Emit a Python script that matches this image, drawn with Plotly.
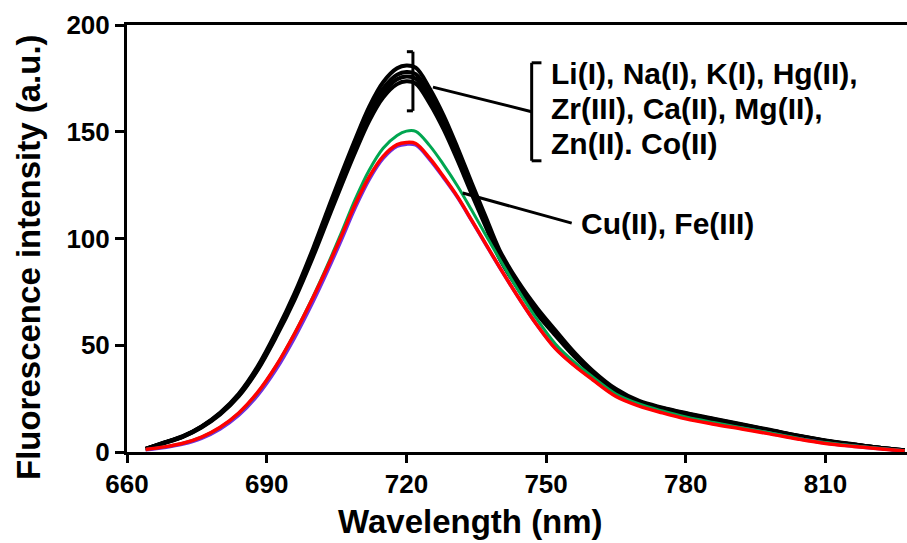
import plotly.graph_objects as go

# ---- data ----
wavelength = [664, 668, 672, 676, 680, 684, 688, 692, 696, 700, 703, 706, 709, 712, 715, 718, 720,
              722, 725, 728, 731, 734, 737, 740, 744, 748, 752, 756, 760, 765, 770, 775, 780, 786,
              792, 798, 804, 810, 816, 822, 827]

black_a = [1.5, 4.5, 7.4, 12.0, 18.4, 27.3, 39.9, 56.1, 74.4, 95.6, 112.9, 130.0, 146.4, 161.7, 173.2, 179.7, 181.0,
           180.0, 170.3, 157.6, 142.4, 126.1, 110.3, 94.6, 79.8, 67.6, 57.0, 46.8, 38.1, 29.5, 23.9, 20.8, 18.3, 15.6,
           13.0, 10.4, 7.7, 5.4, 3.6, 1.9, 0.8]
black_b = [1.5, 4.4, 7.3, 11.8, 18.1, 26.8, 39.2, 55.2, 73.2, 94.0, 111.0, 127.8, 144.0, 159.0, 170.3, 176.7, 178.0,
           177.0, 167.5, 155.0, 140.0, 124.0, 108.5, 93.0, 78.5, 66.5, 56.0, 46.0, 37.5, 29.0, 23.5, 20.5, 18.0, 15.3,
           12.8, 10.2, 7.6, 5.3, 3.5, 1.9, 0.8]
black_c = [1.5, 4.3, 7.2, 11.7, 17.9, 26.5, 38.7, 54.5, 72.3, 92.9, 109.7, 126.3, 142.3, 157.1, 168.3, 174.6, 175.9,
           174.9, 165.5, 153.1, 138.3, 122.5, 107.2, 91.9, 77.6, 65.7, 55.3, 45.4, 37.1, 28.7, 23.2, 20.3, 17.8, 15.1,
           12.6, 10.1, 7.5, 5.2, 3.5, 1.9, 0.8]
black_d = [1.4, 4.2, 7.1, 11.5, 17.6, 26.1, 38.2, 53.8, 71.4, 91.7, 108.2, 124.6, 140.4, 155.0, 166.0, 172.3, 173.6,
           172.6, 163.3, 151.1, 136.5, 120.9, 105.8, 90.7, 76.5, 64.8, 54.6, 44.9, 36.6, 28.3, 22.9, 20.0, 17.6, 14.9,
           12.5, 9.9, 7.4, 5.2, 3.4, 1.9, 0.8]
purple = [1.0, 2.1, 3.7, 6.4, 10.8, 17.2, 26.4, 38.6, 53.6, 70.6, 84.5, 99.2, 114.4, 127.6, 137.5, 143.2, 144.2,
          143.8, 137.0, 128.4, 119.2, 108.4, 97.4, 86.5, 72.6, 59.6, 48.6, 40.8, 34.2, 26.4, 21.9, 18.7, 15.9, 13.4,
          11.1, 8.8, 6.3, 4.2, 2.7, 1.5, 0.5]
green = [1.2, 2.4, 4.1, 7.0, 11.5, 18.2, 27.6, 40.2, 55.6, 73.0, 87.3, 102.5, 118.3, 132.0, 142.3, 148.3, 150.3,
         150.2, 143.5, 134.5, 124.5, 113.3, 101.8, 90.4, 75.8, 62.3, 50.6, 42.2, 35.2, 27.2, 22.5, 19.2, 16.4, 13.8,
         11.4, 9.0, 6.5, 4.4, 2.9, 1.6, 0.6]
red = [1.2, 2.4, 4.1, 7.0, 11.6, 18.3, 27.8, 40.3, 55.5, 72.6, 86.4, 101.0, 116.0, 128.9, 138.5, 144.0, 145.0,
       144.5, 137.6, 128.9, 119.5, 108.6, 97.6, 86.6, 72.6, 59.6, 48.4, 40.5, 33.8, 26.0, 21.5, 18.3, 15.5, 13.0,
       10.8, 8.5, 6.1, 4.0, 2.6, 1.4, 0.5]

x_ticks = [660, 690, 720, 750, 780, 810]
y_ticks = [0, 50, 100, 150, 200]

label_group1 = ["Li(I), Na(I), K(I), Hg(II),", "Zr(III), Ca(II), Mg(II),", "Zn(II). Co(II)"]
label_group2 = "Cu(II), Fe(III)"

FONT = "Liberation Sans, Arial, sans-serif"

fig = go.Figure()
for ys in [black_a, black_b, black_c, black_d]:
    fig.add_trace(go.Scatter(x=wavelength, y=ys, mode="lines",
                             line=dict(color="black", width=4, shape="spline", smoothing=1.0),
                             hoverinfo="skip", showlegend=False))
fig.add_trace(go.Scatter(x=wavelength, y=purple, mode="lines",
                         line=dict(color="#7030e0", width=3.5, shape="spline", smoothing=1.0), showlegend=False))
fig.add_trace(go.Scatter(x=wavelength, y=green, mode="lines",
                         line=dict(color="#00a650", width=3, shape="spline", smoothing=1.0), showlegend=False))
fig.add_trace(go.Scatter(x=wavelength, y=red, mode="lines",
                         line=dict(color="#ff0000", width=3.5, shape="spline", smoothing=1.0), showlegend=False))

# bracket / leader decorations
lw = dict(color="black", width=3)
shapes = [
    dict(type="line", x0=721.4, x1=721.4, y0=187.5, y1=159.8, line=lw),
    dict(type="line", x0=720.1, x1=721.4, y0=187.5, y1=187.5, line=lw),
    dict(type="line", x0=720.1, x1=721.4, y0=159.8, y1=159.8, line=lw),
    dict(type="line", x0=725.7, x1=746.9, y0=170.9, y1=159.4, line=lw),
    dict(type="line", x0=746.9, x1=746.9, y0=182.3, y1=136.4, line=lw),
    dict(type="line", x0=746.9, x1=749.0, y0=182.3, y1=182.3, line=lw),
    dict(type="line", x0=746.9, x1=749.0, y0=136.4, y1=136.4, line=lw),
    dict(type="line", x0=732.1, x1=755.5, y0=121.3, y1=107.2, line=lw),
]

ann_font = dict(family=FONT, size=30, color="black", weight="bold")
annotations = []
for txt, yv in zip(label_group1, [177.4, 161.0, 144.6]):
    annotations.append(dict(x=750.6, y=yv, xref="x", yref="y", text=txt, showarrow=False,
                            xanchor="left", yanchor="middle", font=ann_font))
annotations.append(dict(x=757.0, y=107.2, xref="x", yref="y", text=label_group2, showarrow=False,
                        xanchor="left", yanchor="middle", font=ann_font))
title_font = dict(family=FONT, size=33, color="black", weight="bold")
annotations.append(dict(x=0.441, y=-0.1616, xref="paper", yref="paper", text="Wavelength (nm)",
                        showarrow=False, xanchor="center", yanchor="middle", font=title_font))
annotations.append(dict(x=-0.1256, y=0.4567, xref="paper", yref="paper", text="Fluorescence intensity (a.u.)",
                        showarrow=False, xanchor="center", yanchor="middle", textangle=-90, font=title_font))

tick_font = dict(family=FONT, size=26, color="black", weight="bold")
fig.update_layout(
    width=907, height=543,
    margin=dict(l=127, r=0, t=25, b=91),
    paper_bgcolor="white", plot_bgcolor="white",
    shapes=shapes, annotations=annotations,
    xaxis=dict(range=[660, 827.5], tickvals=x_ticks, ticks="outside", ticklen=8, tickwidth=3,
               tickcolor="black", showline=True, linewidth=3, linecolor="black", mirror=True,
               showgrid=False, zeroline=False, tickfont=tick_font, ticklabelstandoff=-1),
    yaxis=dict(range=[0, 200], tickvals=y_ticks, ticks="outside", ticklen=9, tickwidth=3,
               tickcolor="black", showline=True, linewidth=3, linecolor="black",
               showgrid=False, zeroline=False, tickfont=tick_font),
)

fig.write_html("out.html")
